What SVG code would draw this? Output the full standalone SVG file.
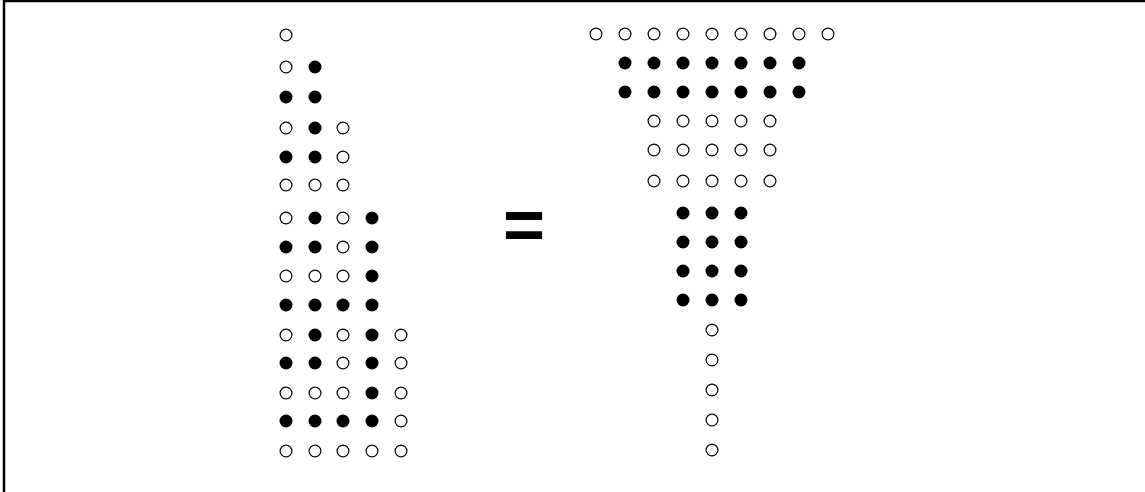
<svg xmlns="http://www.w3.org/2000/svg" width="1145" height="492" viewBox="0 0 1145 492">
<style>
.o{fill:#fff;stroke:#000;stroke-width:1.2}
.f{fill:#000;stroke:none}
.eq{font-family:"Liberation Sans",Arial,sans-serif;font-size:72px;font-weight:bold;fill:#000}
</style>
<rect x="0" y="0" width="1145" height="492" fill="#fff"/>
<rect x="4" y="1" width="1160" height="520" fill="none" stroke="#000" stroke-width="2.5"/>
<g id="left">
<circle class="o" cx="286" cy="35" r="5.9"/>
<circle class="o" cx="286" cy="67" r="5.9"/><circle class="f" cx="315" cy="67" r="6.5"/>
<circle class="f" cx="286" cy="97" r="6.5"/><circle class="f" cx="315" cy="97" r="6.5"/>
<circle class="o" cx="286" cy="128" r="5.9"/><circle class="f" cx="315" cy="128" r="6.5"/><circle class="o" cx="343" cy="128" r="5.9"/>
<circle class="f" cx="286" cy="157" r="6.5"/><circle class="f" cx="315" cy="157" r="6.5"/><circle class="o" cx="343" cy="157" r="5.9"/>
<circle class="o" cx="286" cy="185" r="5.9"/><circle class="o" cx="315" cy="185" r="5.9"/><circle class="o" cx="343" cy="185" r="5.9"/>
<circle class="o" cx="286" cy="218" r="5.9"/><circle class="f" cx="315" cy="218" r="6.5"/><circle class="o" cx="343" cy="218" r="5.9"/><circle class="f" cx="372" cy="218" r="6.5"/>
<circle class="f" cx="286" cy="247" r="6.5"/><circle class="f" cx="315" cy="247" r="6.5"/><circle class="o" cx="343" cy="247" r="5.9"/><circle class="f" cx="372" cy="247" r="6.5"/>
<circle class="o" cx="286" cy="276" r="5.9"/><circle class="o" cx="315" cy="276" r="5.9"/><circle class="o" cx="343" cy="276" r="5.9"/><circle class="f" cx="372" cy="276" r="6.5"/>
<circle class="f" cx="286" cy="305" r="6.5"/><circle class="f" cx="315" cy="305" r="6.5"/><circle class="f" cx="343" cy="305" r="6.5"/><circle class="f" cx="372" cy="305" r="6.5"/>
<circle class="o" cx="286" cy="335" r="5.9"/><circle class="f" cx="315" cy="335" r="6.5"/><circle class="o" cx="343" cy="335" r="5.9"/><circle class="f" cx="372" cy="335" r="6.5"/><circle class="o" cx="401" cy="335" r="5.9"/>
<circle class="f" cx="286" cy="363" r="6.5"/><circle class="f" cx="315" cy="363" r="6.5"/><circle class="o" cx="343" cy="363" r="5.9"/><circle class="f" cx="372" cy="363" r="6.5"/><circle class="o" cx="401" cy="363" r="5.9"/>
<circle class="o" cx="286" cy="393" r="5.9"/><circle class="o" cx="315" cy="393" r="5.9"/><circle class="o" cx="343" cy="393" r="5.9"/><circle class="f" cx="372" cy="393" r="6.5"/><circle class="o" cx="401" cy="393" r="5.9"/>
<circle class="f" cx="286" cy="421" r="6.5"/><circle class="f" cx="315" cy="421" r="6.5"/><circle class="f" cx="343" cy="421" r="6.5"/><circle class="f" cx="372" cy="421" r="6.5"/><circle class="o" cx="401" cy="421" r="5.9"/>
<circle class="o" cx="286" cy="451" r="5.9"/><circle class="o" cx="315" cy="451" r="5.9"/><circle class="o" cx="343" cy="451" r="5.9"/><circle class="o" cx="372" cy="451" r="5.9"/><circle class="o" cx="401" cy="451" r="5.9"/>
</g>
<g id="equals">
<text class="eq" x="524" y="249" text-anchor="middle">=</text>
</g>
<g id="right">
<circle class="o" cx="596" cy="34" r="5.9"/><circle class="o" cx="625" cy="34" r="5.9"/><circle class="o" cx="654" cy="34" r="5.9"/><circle class="o" cx="683" cy="34" r="5.9"/><circle class="o" cx="712" cy="34" r="5.9"/><circle class="o" cx="741" cy="34" r="5.9"/><circle class="o" cx="770" cy="34" r="5.9"/><circle class="o" cx="799" cy="34" r="5.9"/><circle class="o" cx="828" cy="34" r="5.9"/>
<circle class="f" cx="625" cy="63" r="6.5"/><circle class="f" cx="654" cy="63" r="6.5"/><circle class="f" cx="683" cy="63" r="6.5"/><circle class="f" cx="712" cy="63" r="6.5"/><circle class="f" cx="741" cy="63" r="6.5"/><circle class="f" cx="770" cy="63" r="6.5"/><circle class="f" cx="799" cy="63" r="6.5"/>
<circle class="f" cx="625" cy="92" r="6.5"/><circle class="f" cx="654" cy="92" r="6.5"/><circle class="f" cx="683" cy="92" r="6.5"/><circle class="f" cx="712" cy="92" r="6.5"/><circle class="f" cx="741" cy="92" r="6.5"/><circle class="f" cx="770" cy="92" r="6.5"/><circle class="f" cx="799" cy="92" r="6.5"/>
<circle class="o" cx="654" cy="121" r="5.9"/><circle class="o" cx="683" cy="121" r="5.9"/><circle class="o" cx="712" cy="121" r="5.9"/><circle class="o" cx="741" cy="121" r="5.9"/><circle class="o" cx="770" cy="121" r="5.9"/>
<circle class="o" cx="654" cy="150" r="5.9"/><circle class="o" cx="683" cy="150" r="5.9"/><circle class="o" cx="712" cy="150" r="5.9"/><circle class="o" cx="741" cy="150" r="5.9"/><circle class="o" cx="770" cy="150" r="5.9"/>
<circle class="o" cx="654" cy="181" r="5.9"/><circle class="o" cx="683" cy="181" r="5.9"/><circle class="o" cx="712" cy="181" r="5.9"/><circle class="o" cx="741" cy="181" r="5.9"/><circle class="o" cx="770" cy="181" r="5.9"/>
<circle class="f" cx="683" cy="213" r="6.5"/><circle class="f" cx="712" cy="213" r="6.5"/><circle class="f" cx="741" cy="213" r="6.5"/>
<circle class="f" cx="683" cy="242" r="6.5"/><circle class="f" cx="712" cy="242" r="6.5"/><circle class="f" cx="741" cy="242" r="6.5"/>
<circle class="f" cx="683" cy="271" r="6.5"/><circle class="f" cx="712" cy="271" r="6.5"/><circle class="f" cx="741" cy="271" r="6.5"/>
<circle class="f" cx="683" cy="300" r="6.5"/><circle class="f" cx="712" cy="300" r="6.5"/><circle class="f" cx="741" cy="300" r="6.5"/>
<circle class="o" cx="712" cy="330" r="5.9"/>
<circle class="o" cx="712" cy="360" r="5.9"/>
<circle class="o" cx="712" cy="390" r="5.9"/>
<circle class="o" cx="712" cy="420" r="5.9"/>
<circle class="o" cx="712" cy="450" r="5.9"/>
</g>
</svg>
